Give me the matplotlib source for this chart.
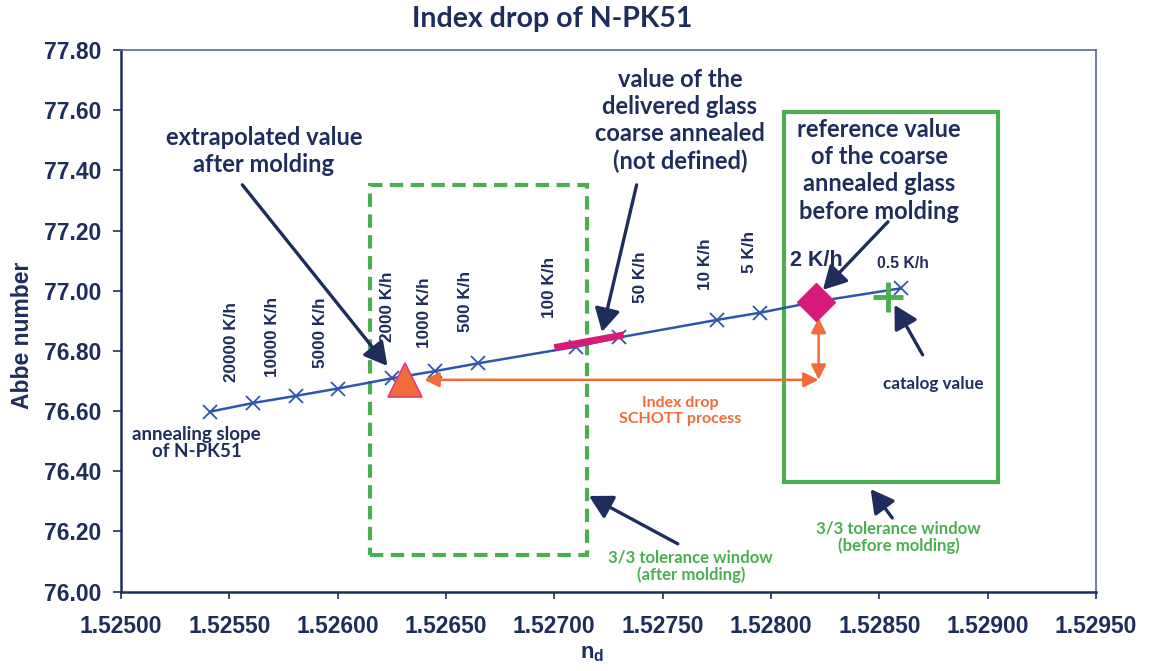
import matplotlib
matplotlib.use("Agg")
import matplotlib.pyplot as plt
from matplotlib.patches import Rectangle

# annealing slope of N-PK51 (nd, Abbe number)
nd = [1.52541, 1.52561, 1.52581, 1.52600, 1.52625, 1.52645, 1.52665,
      1.52710, 1.52730, 1.52775, 1.52795, 1.52821, 1.52860]
abbe = [76.598, 76.627, 76.651, 76.675, 76.709, 76.733, 76.759,
        76.814, 76.845, 76.903, 76.927, 76.964, 77.008]

# cooling rate labels (rotated) and where they sit
rate_labels = ["20000 K/h", "10000 K/h", "5000 K/h", "2000 K/h", "1000 K/h",
               "500 K/h", "100 K/h", "50 K/h", "10 K/h", "5 K/h"]
rate_x = [1.52551, 1.52570, 1.52592, 1.52623, 1.52640,
          1.52659, 1.52698, 1.52740, 1.52770, 1.52790]
rate_y = [76.697, 76.714, 76.744, 76.830, 76.810,
          76.863, 76.910, 76.959, 77.003, 77.059]

molded = (1.52631, 76.702)      # extrapolated value after molding
reference = (1.52821, 76.964)   # 2 K/h reference value
catalog = (1.52854, 76.98)
delivered_x = [1.52700, 1.52732]
delivered_y = [76.811, 76.853]

# tolerance windows: (x0, y0, width, height)
win_after = (1.52615, 76.122, 0.00100, 1.23)
win_before = (1.52806, 76.364, 0.00099, 1.23)

xticks = [1.525, 1.5255, 1.526, 1.5265, 1.527, 1.5275, 1.528, 1.5285, 1.529, 1.5295]
yticks = [76.0, 76.2, 76.4, 76.6, 76.8, 77.0, 77.2, 77.4, 77.6, 77.8]

navy = "#1f2d5c"
blue = "#2f55b0"
orange = "#f06c3a"
green = "#4cae52"
magenta = "#d81b78"
ann_font = "Lato"

fig = plt.figure(figsize=(11.5, 6.71), dpi=100)
ax = fig.add_axes([0.1052, 0.1182, 0.8478, 0.8073])

ax.plot(nd, abbe, color=blue, lw=1.8, marker="x", ms=10, mew=1.3, zorder=3)

ax.add_patch(Rectangle(win_after[:2], win_after[2], win_after[3], fill=False,
                       ec=green, lw=3, ls=(0, (3.2, 1.8)), zorder=2))
ax.add_patch(Rectangle(win_before[:2], win_before[2], win_before[3], fill=False,
                       ec=green, lw=3, zorder=2))

ax.plot(delivered_x, delivered_y, color=magenta, lw=5, solid_capstyle="butt", zorder=4)
ax.plot(*molded, marker="^", ms=24, color=orange, mec="#e63a78", mew=1.2, zorder=5)
ax.plot(*reference, marker="D", ms=19, color=magenta, mec=magenta, zorder=5)
ax.plot(*catalog, marker="+", ms=22, mew=3.5, color=green, zorder=5)

# index drop arrows
ax.annotate("", xy=(1.52640, 76.704), xytext=(1.52822, 76.704),
            arrowprops=dict(arrowstyle="<|-|>,head_length=1.0,head_width=0.5",
                            mutation_scale=9, color=orange, lw=1.8,
                            shrinkA=0, shrinkB=0), zorder=4)
ax.annotate("", xy=(1.52822, 76.910), xytext=(1.52822, 76.704),
            arrowprops=dict(arrowstyle="<|-|>,head_length=1.0,head_width=0.5",
                            mutation_scale=9, color=orange, lw=1.8,
                            shrinkA=0, shrinkB=0), zorder=4)

# navy pointer arrows: (start, end)
pointers = [((1.52556, 77.352), (1.52623, 76.750)),
            ((1.52738, 77.352), (1.52722, 76.863)),
            ((1.52854, 77.229), (1.52824, 77.003)),
            ((1.52870, 76.787), (1.52857, 76.953)),
            ((1.52757, 76.159), (1.52716, 76.318)),
            ((1.52856, 76.245), (1.52846, 76.341))]
for start, end in pointers:
    ax.annotate("", xy=end, xytext=start,
                arrowprops=dict(arrowstyle="-|>,head_length=1.0,head_width=0.55",
                                mutation_scale=14, color=navy, lw=2.4,
                                shrinkA=0, shrinkB=0), zorder=6)

for lab, x, y in zip(rate_labels, rate_x, rate_y):
    ax.text(x, y, lab, rotation=90, ha="center", va="bottom", fontsize=12.3,
            fontweight="bold", color=navy, family="Liberation Sans")
ax.text(1.52821, 77.102, "2 K/h", ha="center", va="center", fontsize=15.5,
        fontweight="bold", color=navy, family="Liberation Sans")
ax.text(1.52861, 77.092, "0.5 K/h", ha="center", va="center", fontsize=11.3,
        fontweight="bold", color=navy, family="Liberation Sans")

big = dict(ha="center", va="center", fontsize=17, fontweight="bold", color=navy,
           family=ann_font, linespacing=1.22)
ax.text(1.52566, 77.464, "extrapolated value\nafter molding", **big)
ax.text(1.52758, 77.567, "value of the\ndelivered glass\ncoarse annealed\n(not defined)", **big)
ax.text(1.52850, 77.40, "reference value\nof the coarse\nannealed glass\nbefore molding", **big)

ax.text(1.52875, 76.69, "catalog value", ha="center", va="center", fontsize=12.3,
        fontweight="bold", color=navy, family=ann_font)
ax.text(1.52535, 76.494, "annealing slope\nof N-PK51", ha="center", va="center",
        fontsize=13.5, fontweight="bold", color=navy, family=ann_font, linespacing=1.0)
ax.text(1.52758, 76.60, "Index drop\nSCHOTT process", ha="center", va="center",
        fontsize=11.5, fontweight="bold", color=orange, family=ann_font, linespacing=1.15)
ax.text(1.52763, 76.085, "3/3 tolerance window\n(after molding)", ha="center", va="center",
        fontsize=12.1, fontweight="bold", color=green, family=ann_font, linespacing=1.05)
ax.text(1.52859, 76.182, "3/3 tolerance window\n(before molding)", ha="center", va="center",
        fontsize=12.1, fontweight="bold", color=green, family=ann_font, linespacing=1.05)

ax.set_xlim(1.525, 1.5295)
ax.set_ylim(76.0, 77.8)
ax.set_xticks(xticks)
ax.set_yticks(yticks)
ax.set_xticklabels(["{:.5f}".format(v) for v in xticks])
ax.set_yticklabels(["{:.2f}".format(v) for v in yticks])
for lab in ax.get_xticklabels() + ax.get_yticklabels():
    lab.set_fontsize(16.5)
    lab.set_fontweight("bold")
    lab.set_family("Liberation Sans")
    lab.set_color(navy)
ax.tick_params(axis="x", direction="out", length=5, width=1.2, color=navy, pad=12)
ax.tick_params(axis="y", direction="out", length=6, width=1.2, color=navy, pad=8)

for side in ["left", "bottom"]:
    ax.spines[side].set_color(navy)
    ax.spines[side].set_linewidth(1.8)
for side in ["top", "right"]:
    ax.spines[side].set_color("#5a6890")
    ax.spines[side].set_linewidth(1.2)

ax.set_xlabel(r"n$_\mathregular{d}$", fontsize=16, fontweight="bold", color=navy,
              family="Liberation Sans")
ax.xaxis.set_label_coords(0.483, -0.095)
fig.text(0.020, 1 - 335 / 671, "Abbe number", rotation=90, ha="center", va="center",
         fontsize=16.5, fontweight="bold", color=navy, family="Liberation Sans")
fig.text(0.480, 1 - 19 / 671, "Index drop of N-PK51", ha="center", va="center",
         fontsize=20.5, fontweight="bold", color=navy, family=ann_font)

fig.savefig("out.png", dpi=100)
